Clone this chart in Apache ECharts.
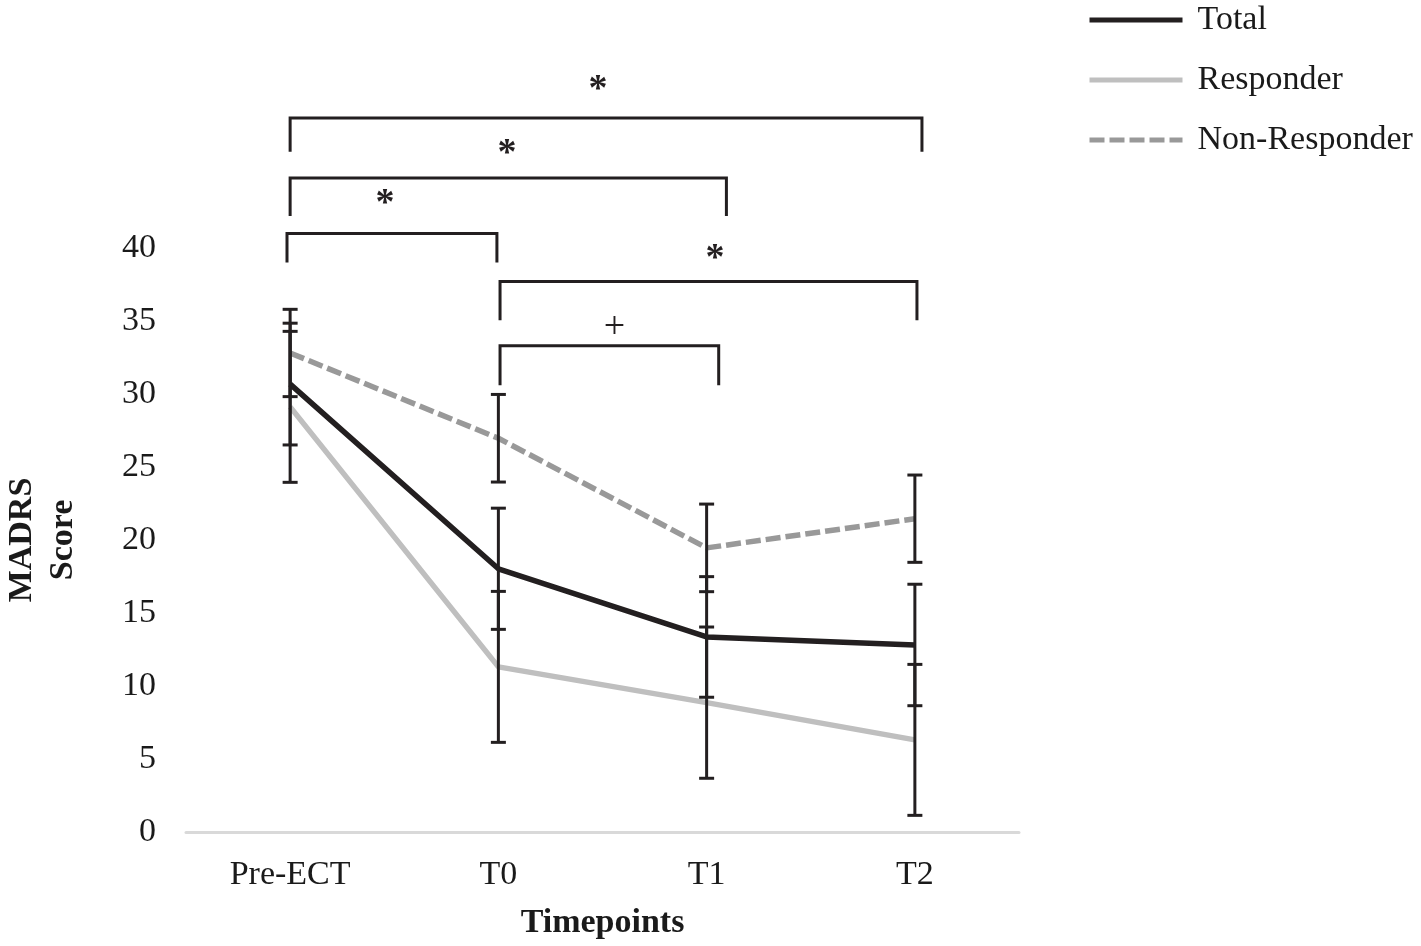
<!DOCTYPE html>
<html>
<head>
<meta charset="utf-8">
<script src="https://cdn.jsdelivr.net/npm/echarts@6/dist/echarts.min.js"></script>
<style>html,body{margin:0;padding:0;background:#fff;}#c{width:1421px;height:946px;}</style>
</head>
<body>
<div id="c"></div>
<script>
// ---- data ----
const categories = ['Pre-ECT', 'T0', 'T1', 'T2'];
const yTicks = [0, 5, 10, 15, 20, 25, 30, 35, 40];
const seriesNames = ['Total', 'Responder', 'Non-Responder'];
const totalMean = [30.68, 18.03, 13.36, 12.81];
const totalErr = [4.17, 4.15, 4.13, 4.16];
const responderMean = [29.12, 11.31, 8.86, 6.31];
const responderErr = [5.17, 5.17, 5.18, 5.17];
const nonResponderMean = [32.81, 26.97, 19.46, 21.46];
const nonResponderErr = [2.99, 3.0, 3.0, 2.99];
// significance brackets (x in category index units, y in score units)
const bracketFrom = [0, 0, -0.015, 1.008, 1.008];
const bracketTo = [3.034, 2.095, 0.993, 3.01, 2.058];
const bracketTop = [48.9, 44.8, 41.0, 37.7, 33.3];
const bracketLeg = [46.6, 42.2, 39.0, 35.05, 30.6];
const bracketLabel = ['*', '*', '*', '*', '+'];
const bracketLabelX = [1.478, 1.041, 0.456, 2.04, 1.558];
const bracketLabelY = [50.8, 46.4, 43.0, 39.25, 34.5];

// ---- build ----
const FONT = 'Liberation Serif';
const TXT = '#1a1a1a';
const errData = [];
[[totalMean, totalErr], [responderMean, responderErr], [nonResponderMean, nonResponderErr]].forEach(([m, e]) => {
  m.forEach((v, i) => errData.push([i, v - e[i], v + e[i]]));
});
const bracketData = bracketFrom.map((f, i) => [f, bracketTo[i], bracketTop[i], bracketLeg[i], bracketLabelX[i], bracketLabelY[i], i]);

const chart = echarts.init(document.getElementById('c'));
chart.setOption({
  animation: false,
  backgroundColor: '#fff',
  grid: { left: 186, right: 402, top: 248, bottom: 114, containLabel: false, outerBoundsMode: 'none' },
  legend: {
    orient: 'vertical', left: 1087, top: 3, padding: 0,
    itemWidth: 93, itemHeight: 20, itemGap: 26,
    data: seriesNames,
    lineStyle: { width: 5 },
    itemStyle: { opacity: 0, borderWidth: 0 },
    textStyle: { fontFamily: FONT, fontSize: 34, color: TXT, lineHeight: 34, padding: [0, 0, 0, 10] }
  },
  xAxis: [{
    type: 'category', data: categories, boundaryGap: true,
    axisLine: { lineStyle: { color: '#d9d9d9', width: 3 } },
    axisTick: { show: false },
    axisLabel: { fontFamily: FONT, fontSize: 34, color: TXT, margin: 26 },
    name: 'Timepoints', nameLocation: 'middle', nameGap: 74,
    nameTextStyle: { fontFamily: FONT, fontSize: 34, fontWeight: 'bold', color: TXT }
  }, {
    type: 'value', min: -0.5, max: 3.5, show: false
  }],
  yAxis: {
    type: 'value', min: yTicks[0], max: yTicks[yTicks.length - 1], interval: 5,
    axisLine: { show: false }, axisTick: { show: false }, splitLine: { show: false },
    axisLabel: { fontFamily: FONT, fontSize: 34, color: TXT, margin: 30 },
    name: 'MADRS\nScore', nameLocation: 'middle', nameRotate: 90, nameGap: 102,
    nameTextStyle: { fontFamily: FONT, fontSize: 34, fontWeight: 'bold', color: TXT, lineHeight: 41 }
  },
  series: [
    { name: seriesNames[0], type: 'line', data: totalMean, symbol: 'none', z: 3,
      lineStyle: { color: '#231f20', width: 5.5 }, itemStyle: { color: '#231f20' } },
    { name: seriesNames[1], type: 'line', data: responderMean, symbol: 'none', z: 2,
      lineStyle: { color: '#bfbfbf', width: 5.5 }, itemStyle: { color: '#bfbfbf' } },
    { name: seriesNames[2], type: 'line', data: nonResponderMean, symbol: 'none', z: 2,
      lineStyle: { color: '#999999', width: 5.5, type: [15, 5] }, itemStyle: { color: '#999999' } },
    {
      type: 'custom', xAxisIndex: 1, z: 5, clip: false, data: errData,
      renderItem: function (params, api) {
        const x = api.value(0);
        const p1 = api.coord([x, api.value(2)]);
        const p0 = api.coord([x, api.value(1)]);
        const cw = 7.5;
        const st = { stroke: '#231f20', lineWidth: 3 };
        return { type: 'group', children: [
          { type: 'line', shape: { x1: p1[0], y1: p1[1], x2: p0[0], y2: p0[1] }, style: st },
          { type: 'line', shape: { x1: p1[0] - cw, y1: p1[1], x2: p1[0] + cw, y2: p1[1] }, style: st },
          { type: 'line', shape: { x1: p0[0] - cw, y1: p0[1], x2: p0[0] + cw, y2: p0[1] }, style: st }
        ]};
      }
    },
    {
      type: 'custom', xAxisIndex: 1, z: 5, clip: false, data: bracketData,
      renderItem: function (params, api) {
        const a = api.coord([api.value(0), api.value(3)]);
        const b = api.coord([api.value(0), api.value(2)]);
        const c = api.coord([api.value(1), api.value(2)]);
        const d = api.coord([api.value(1), api.value(3)]);
        const t = api.coord([api.value(4), api.value(5)]);
        const lbl = bracketLabel[api.value(6)];
        const isStar = lbl === '*';
        return { type: 'group', children: [
          { type: 'polyline', shape: { points: [a, b, c, d] },
            style: { stroke: '#231f20', lineWidth: 3, fill: null } },
          { type: 'text', x: t[0], y: t[1],
            style: { text: lbl, fontFamily: FONT, fontSize: 38,
              fontWeight: isStar ? 'bold' : 'normal', fill: '#231f20',
              align: 'center', verticalAlign: 'middle' } }
        ]};
      }
    }
  ]
});
</script>
</body>
</html>
